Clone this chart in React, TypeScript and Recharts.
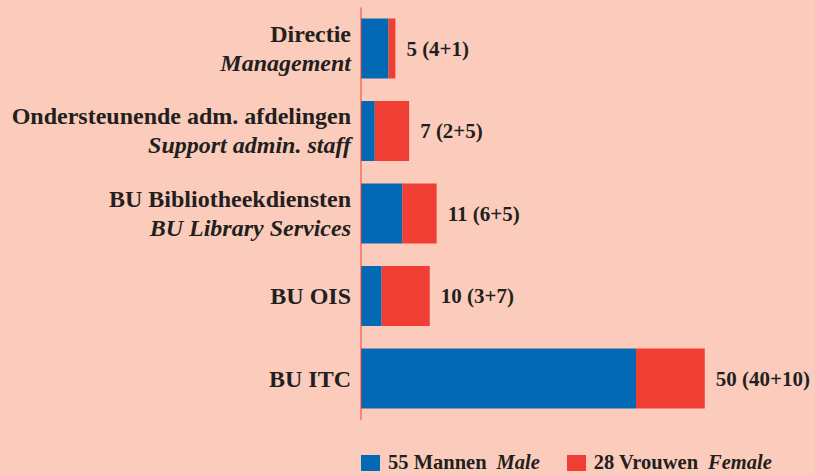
import { BarChart, Bar, XAxis, YAxis, LabelList } from 'recharts';

const categories = [
  'Directie',
  'Ondersteunende adm. afdelingen',
  'BU Bibliotheekdiensten',
  'BU OIS',
  'BU ITC',
];
const subtitles = ['Management', 'Support admin. staff', 'BU Library Services', '', ''];
const male = [4, 2, 6, 3, 40];
const female = [1, 5, 5, 7, 10];

const BLUE = '#0369B5';
const RED = '#EF3E33';
const BG = '#FBCCBB';
const INK = '#231F20';
const FONT = '"Liberation Serif", "DejaVu Serif", serif';

const data = categories.map((name, i) => ({
  name,
  male: male[i],
  female: female[i],
  label: `${male[i] + female[i]} (${male[i]}+${female[i]})`,
}));

const totalMale = male.reduce((a, b) => a + b, 0);
const totalFemale = female.reduce((a, b) => a + b, 0);

// two-line category label: Dutch bold, English bold italic underneath
const CategoryTick = (props: any) => {
  const { x, y, payload } = props;
  const sub = subtitles[payload.index];
  if (!sub) {
    return (
      <text x={x} y={y + 8} textAnchor="end" fill={INK} fontFamily={FONT} fontSize={24} fontWeight="bold">
        {payload.value}
      </text>
    );
  }
  return (
    <g>
      <text x={x} y={y - 7} textAnchor="end" fill={INK} fontFamily={FONT} fontSize={24} fontWeight="bold">
        {payload.value}
      </text>
      <text
        x={x}
        y={y + 22}
        textAnchor="end"
        fill={INK}
        fontFamily={FONT}
        fontSize={24}
        fontWeight="bold"
        fontStyle="italic"
      >
        {sub}
      </text>
    </g>
  );
};

const LegendItem = ({ color, text, sub }: { color: string; text: string; sub: string }) => (
  <span style={{ display: 'inline-flex', alignItems: 'center' }}>
    <span style={{ width: 19, height: 16, background: color, display: 'inline-block', marginRight: 8 }} />
    <span style={{ fontWeight: 'bold' }}>{text}</span>
    <span style={{ fontWeight: 'bold', fontStyle: 'italic', marginLeft: 10 }}>{sub}</span>
  </span>
);

export default function App() {
  return (
    <div
      style={{
        position: 'fixed',
        top: 0,
        left: 0,
        width: 815,
        height: 475,
        background: BG,
        fontFamily: FONT,
        color: INK,
      }}
    >
      <BarChart
        width={815}
        height={475}
        data={data}
        layout="vertical"
        barSize={60}
        margin={{ top: 7.5, right: 41.5, bottom: 55, left: 0 }}
      >
        <XAxis type="number" domain={[0, 60]} hide />
        <YAxis
          type="category"
          dataKey="name"
          width={361}
          tickLine={false}
          tickSize={0}
          tickMargin={10}
          axisLine={{ stroke: RED, strokeWidth: 1 }}
          tick={<CategoryTick />}
          interval={0}
        />
        <Bar dataKey="male" stackId="a" fill={BLUE} isAnimationActive={false} />
        <Bar dataKey="female" stackId="a" fill={RED} isAnimationActive={false}>
          <LabelList
            dataKey="label"
            position="right"
            offset={11}
            fill={INK}
            fontFamily={FONT}
            fontSize={21}
            fontWeight="bold"
          />
        </Bar>
      </BarChart>
      <div
        style={{
          position: 'absolute',
          top: 451,
          left: 361,
          fontSize: 20.5,
          display: 'flex',
          gap: 27,
          whiteSpace: 'nowrap',
        }}
      >
        <LegendItem color={BLUE} text={`${totalMale} Mannen`} sub="Male" />
        <LegendItem color={RED} text={`${totalFemale} Vrouwen`} sub="Female" />
      </div>
    </div>
  );
}
